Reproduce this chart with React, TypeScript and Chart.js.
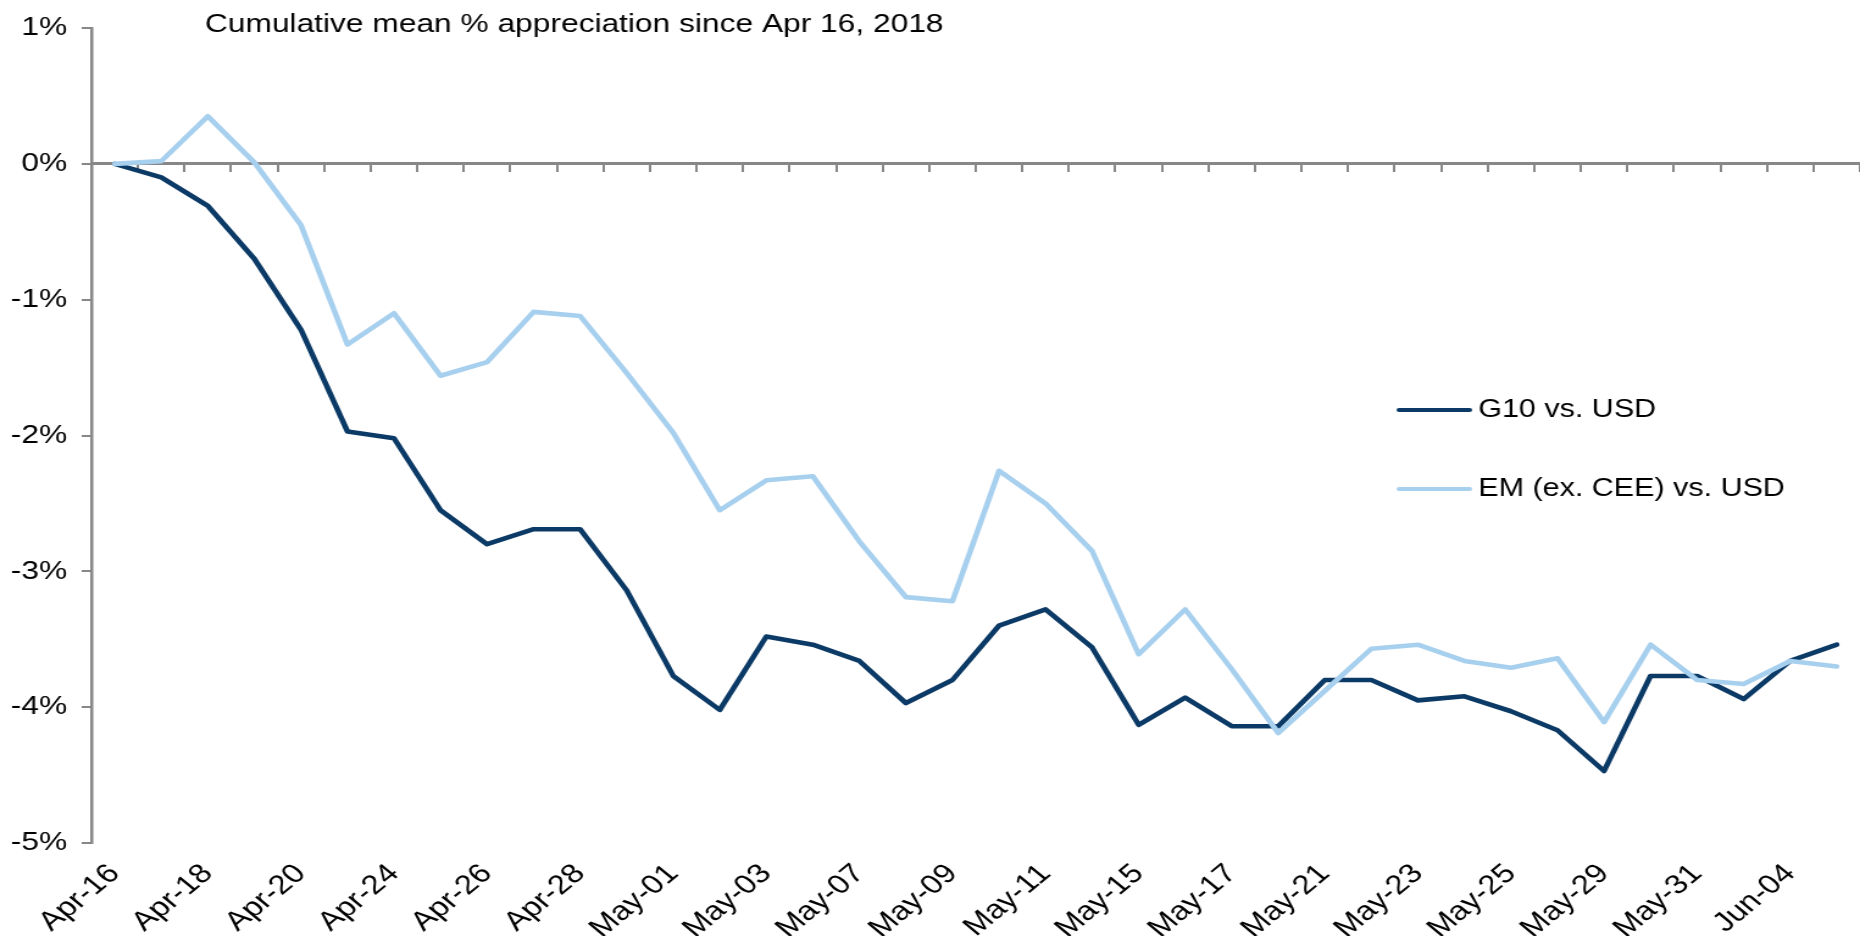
import React, { useEffect, useRef } from "react";
import { Chart, registerables } from "chart.js";

Chart.register(...registerables);

const categories = [
  "Apr-16", "Apr-17", "Apr-18", "Apr-19", "Apr-20", "Apr-23", "Apr-24", "Apr-25",
  "Apr-26", "Apr-27", "Apr-28", "Apr-30", "May-01", "May-02", "May-03", "May-04",
  "May-07", "May-08", "May-09", "May-10", "May-11", "May-14", "May-15", "May-16",
  "May-17", "May-18", "May-21", "May-22", "May-23", "May-24", "May-25", "May-28",
  "May-29", "May-30", "May-31", "Jun-01", "Jun-04", "Jun-05",
];

const g10VsUsd = [
  0, -0.1, -0.31, -0.7, -1.22, -1.97, -2.02, -2.55,
  -2.8, -2.69, -2.69, -3.14, -3.77, -4.02, -3.48, -3.54,
  -3.66, -3.97, -3.8, -3.4, -3.28, -3.56, -4.13, -3.93,
  -4.14, -4.14, -3.8, -3.8, -3.95, -3.92, -4.03, -4.17,
  -4.47, -3.77, -3.77, -3.94, -3.66, -3.54,
];

const emVsUsd = [
  0, 0.02, 0.35, 0.01, -0.45, -1.33, -1.1, -1.56,
  -1.46, -1.09, -1.12, -1.54, -1.98, -2.55, -2.33, -2.3,
  -2.78, -3.19, -3.22, -2.26, -2.5, -2.85, -3.61, -3.28,
  -3.72, -4.19, -3.88, -3.57, -3.54, -3.66, -3.71, -3.64,
  -4.11, -3.54, -3.8, -3.83, -3.66, -3.7,
];

const seriesLabels = ["G10 vs. USD", "EM (ex. CEE) vs. USD"];
const titleText = "Cumulative mean % appreciation since Apr 16, 2018";
const yMin = -5;
const yMax = 1;
const yStep = 1;

const W = 1525;
const H = 936;

export default function App() {
  const ref = useRef<HTMLCanvasElement | null>(null);

  useEffect(() => {
    const canvas = ref.current;
    if (!canvas) return;
    const family = "'Liberation Sans', Arial, sans-serif";
    const gray = "#878787";

    const overlay = {
      id: "overlay",
      afterDraw(chart: any) {
        const { ctx, chartArea } = chart;
        ctx.save();
        ctx.fillStyle = "#000";
        ctx.textBaseline = "middle";
        ctx.textAlign = "left";
        ctx.font = `26px ${family}`;
        ctx.fillText(titleText, chartArea.left + 93, 25);
        chart.data.datasets.forEach((ds: any, k: number) => {
          const y = 410 + k * 79;
          ctx.strokeStyle = ds.borderColor;
          ctx.lineWidth = 4;
          ctx.lineCap = "round";
          ctx.beginPath();
          ctx.moveTo(1147, y);
          ctx.lineTo(1205, y);
          ctx.stroke();
          ctx.font = `25px ${family}`;
          ctx.fillText(ds.label, 1212, y);
        });
        ctx.restore();
      },
    };

    const chart = new Chart(canvas, {
      type: "line",
      data: {
        labels: categories,
        datasets: [
          {
            label: seriesLabels[0],
            data: g10VsUsd,
            borderColor: "#0c3a66",
            backgroundColor: "#0c3a66",
            borderWidth: 4.6,
            pointRadius: 0,
            order: 1,
          },
          {
            label: seriesLabels[1],
            data: emVsUsd,
            borderColor: "#a7cfee",
            backgroundColor: "#a7cfee",
            borderWidth: 4.6,
            pointRadius: 0,
            order: 0,
          },
        ],
      },
      options: {
        responsive: false,
        animation: false,
        devicePixelRatio: 1,
        layout: { padding: { top: 28, left: 0, right: 0, bottom: 0 } },
        plugins: {
          legend: { display: false },
          tooltip: { enabled: false },
          title: { display: false },
        },
        elements: {
          line: { tension: 0, borderJoinStyle: "round", borderCapStyle: "round" },
          point: { radius: 0 },
        },
        scales: {
          x: {
            type: "category",
            position: "bottom",
            offset: true,
            grid: { display: false },
            border: { display: false },
            ticks: {
              autoSkip: false,
              maxRotation: 45,
              minRotation: 45,
              padding: 7,
              color: "#000",
              font: { family, size: 27 },
              callback: (_v: any, i: number) => (i % 2 === 0 ? categories[i] : ""),
            },
            afterFit: (s: any) => {
              s.height = 93;
              s.paddingLeft = 0;
              s.paddingRight = 0;
            },
          },
          x2: {
            type: "category",
            axis: "x",
            position: { y: 0 },
            offset: true,
            grid: {
              offset: true,
              drawOnChartArea: false,
              drawTicks: true,
              tickLength: 7,
              color: gray,
              lineWidth: 2,
            },
            border: { display: true, color: gray, width: 3 },
            ticks: { display: false },
          },
          y: {
            min: yMin,
            max: yMax,
            grid: {
              drawOnChartArea: false,
              drawTicks: true,
              tickLength: 8,
              color: gray,
              lineWidth: 2,
            },
            border: { display: true, color: gray, width: 2.5 },
            ticks: {
              stepSize: yStep,
              padding: 12,
              color: "#000",
              font: { family, size: 26 },
              callback: (v: any) => `${v}%`,
            },
            afterFit: (s: any) => {
              s.width = 75;
            },
          },
        },
      } as any,
      plugins: [overlay],
    });

    return () => chart.destroy();
  }, []);

  return (
    <div
      style={{
        position: "fixed",
        left: 0,
        top: 0,
        width: 1860,
        height: 936,
        background: "#fff",
      }}
    >
      <canvas
        ref={ref}
        width={W}
        height={H}
        style={{ width: "1860px", height: "936px", display: "block" }}
      />
    </div>
  );
}
